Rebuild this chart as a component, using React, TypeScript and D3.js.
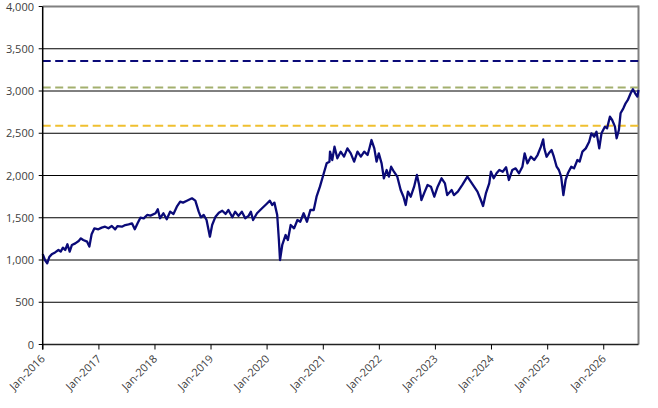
import React from "react";
import * as d3 from "d3";

// decimal year, index level
const seg2016to2018: [number, number][] = [
  [2016.0, 1070], [2016.04, 1000], [2016.08, 961], [2016.12, 1039], [2016.16, 1067],
  [2016.22, 1090], [2016.28, 1118], [2016.32, 1100], [2016.36, 1146], [2016.4, 1118],
  [2016.44, 1186], [2016.48, 1100], [2016.52, 1178], [2016.58, 1197], [2016.64, 1225],
  [2016.68, 1256], [2016.72, 1237], [2016.79, 1217], [2016.83, 1158], [2016.87, 1304],
  [2016.92, 1375], [2016.99, 1363], [2017.05, 1383], [2017.11, 1394], [2017.17, 1375],
  [2017.23, 1402], [2017.29, 1363], [2017.33, 1402], [2017.41, 1394], [2017.47, 1414],
  [2017.53, 1422], [2017.59, 1434], [2017.64, 1363], [2017.69, 1434], [2017.74, 1501],
  [2017.8, 1493], [2017.86, 1533], [2017.92, 1525], [2018.01, 1553], [2018.05, 1600],
  [2018.09, 1494], [2018.15, 1553], [2018.21, 1482], [2018.27, 1572], [2018.33, 1545],
  [2018.39, 1631], [2018.45, 1690], [2018.5, 1679],
];

const seg2018to2021: [number, number][] = [
  [2018.57, 1702], [2018.66, 1730], [2018.72, 1702], [2018.78, 1572], [2018.82, 1505],
  [2018.87, 1533], [2018.92, 1473], [2018.98, 1276], [2019.02, 1414], [2019.08, 1513],
  [2019.14, 1560], [2019.2, 1583], [2019.26, 1545], [2019.31, 1592], [2019.38, 1505],
  [2019.43, 1572], [2019.49, 1522], [2019.55, 1572], [2019.61, 1494], [2019.67, 1522],
  [2019.71, 1572], [2019.75, 1473], [2019.82, 1553], [2019.91, 1612], [2019.99, 1663],
  [2020.05, 1702], [2020.09, 1651], [2020.13, 1679], [2020.18, 1533], [2020.21, 1237],
  [2020.23, 1000], [2020.27, 1178], [2020.33, 1296], [2020.37, 1237], [2020.42, 1414],
  [2020.48, 1375], [2020.54, 1473], [2020.59, 1453], [2020.65, 1553], [2020.71, 1453],
  [2020.77, 1592], [2020.83, 1592], [2020.88, 1749], [2020.94, 1868], [2021.0, 2006],
  [2021.06, 2144],
];

const seg2021to2024: [number, number][] = [
  [2021.11, 2164], [2021.12, 2282], [2021.16, 2183], [2021.2, 2341], [2021.25, 2203],
  [2021.31, 2282], [2021.37, 2223], [2021.43, 2321], [2021.49, 2262], [2021.55, 2164],
  [2021.61, 2282], [2021.67, 2223], [2021.73, 2282], [2021.79, 2242], [2021.83, 2341],
  [2021.86, 2420], [2021.91, 2321], [2021.95, 2164], [2021.99, 2262], [2022.04, 2144],
  [2022.08, 1967], [2022.13, 2065], [2022.17, 1986], [2022.21, 2104], [2022.26, 2045],
  [2022.32, 1986], [2022.38, 1828], [2022.43, 1749], [2022.47, 1651], [2022.51, 1809],
  [2022.56, 1749], [2022.62, 1868], [2022.67, 2006], [2022.71, 1888], [2022.75, 1710],
  [2022.81, 1809], [2022.86, 1888], [2022.92, 1868], [2022.98, 1749], [2023.04, 1868],
  [2023.11, 1967], [2023.17, 1907], [2023.21, 1768], [2023.29, 1828], [2023.33, 1768],
  [2023.4, 1809], [2023.48, 1888], [2023.57, 1986], [2023.63, 1927], [2023.69, 1868],
  [2023.75, 1809], [2023.81, 1710], [2023.85, 1639], [2023.9, 1788], [2023.96, 1907],
  [2023.99, 2045],
];

const seg2024to2026: [number, number][] = [
  [2024.04, 1967], [2024.09, 2026], [2024.14, 2065], [2024.2, 2045], [2024.26, 2097],
  [2024.31, 1947], [2024.37, 2065], [2024.43, 2085], [2024.49, 2026], [2024.55, 2104],
  [2024.59, 2262], [2024.64, 2144], [2024.7, 2223], [2024.76, 2183], [2024.82, 2242],
  [2024.88, 2341], [2024.92, 2428], [2024.94, 2321], [2024.98, 2222], [2025.02, 2262],
  [2025.07, 2301], [2025.11, 2222], [2025.16, 2104], [2025.2, 2065], [2025.24, 1986],
  [2025.28, 1769], [2025.32, 1947], [2025.36, 2026], [2025.42, 2104], [2025.47, 2085],
  [2025.53, 2183], [2025.57, 2164], [2025.62, 2282], [2025.68, 2321], [2025.74, 2400],
  [2025.78, 2499], [2025.83, 2459], [2025.87, 2518], [2025.92, 2321], [2025.96, 2499],
  [2026.02, 2578], [2026.06, 2558], [2026.11, 2696], [2026.15, 2657], [2026.2, 2578],
  [2026.23, 2440], [2026.27, 2538], [2026.3, 2736], [2026.35, 2795], [2026.39, 2854],
  [2026.43, 2894], [2026.48, 2973], [2026.52, 3020], [2026.56, 2973], [2026.6, 2934],
  [2026.62, 3012],
];

const yTicks = [0, 500, 1000, 1500, 2000, 2500, 3000, 3500, 4000];
const xTickYears = [2016, 2017, 2018, 2019, 2020, 2021, 2022, 2023, 2024, 2025, 2026];
const refLevels = [
  { value: 3355, color: "#0a0a78" },
  { value: 3040, color: "#a3b06e" },
  { value: 2588, color: "#f0c030" },
];

const toDate = (t: number) => {
  const y = Math.floor(t);
  const start = new Date(y, 0, 1).getTime();
  const end = new Date(y + 1, 0, 1).getTime();
  return new Date(start + (t - y) * (end - start));
};

export default function App() {
  const W = 658, H = 408;
  const left = 42.7, right = 638.5, top = 6.5, bottom = 344.5;
  const series = [...seg2016to2018, ...seg2018to2021, ...seg2021to2024, ...seg2024to2026];
  const x = d3.scaleTime().domain([toDate(2016), toDate(2026.62)]).range([left, right]);
  const y = d3.scaleLinear().domain([0, 4000]).range([bottom, top]);
  const line = d3.line<[number, number]>().x((d) => x(toDate(d[0]))).y((d) => y(d[1]));
  const fmtY = d3.format(",");
  const fmtX = d3.timeFormat("%b-%Y");
  const font = "'Open Sans', 'Noto Sans', sans-serif";
  return (
    <svg width={W} height={H} style={{ position: "absolute", left: 0, top: 0, background: "#fff" }}>
      {yTicks.filter((t) => t > 0 && t < 4000).map((t) => (
        <line key={t} x1={left} x2={right} y1={y(t)} y2={y(t)} stroke="#000" strokeWidth={1} />
      ))}
      <line x1={left} x2={right} y1={y(4000)} y2={y(4000)} stroke="#808080" strokeWidth={2} />
      <line x1={right} x2={right} y1={top - 1} y2={bottom} stroke="#808080" strokeWidth={2} />
      {refLevels.map((r) => (
        <line key={r.value} x1={left} x2={right} y1={y(r.value)} y2={y(r.value)}
          stroke={r.color} strokeWidth={2} strokeDasharray="8,4.5" />
      ))}
      <path d={line(series) || ""} fill="none" stroke="#0a0a78" strokeWidth={2.3} strokeLinejoin="round" />
      <line x1={left} x2={right} y1={bottom} y2={bottom} stroke="#222" strokeWidth={1.5} />
      <line x1={left} x2={left} y1={top} y2={bottom + 5} stroke="#000" strokeWidth={1.5} />
      {yTicks.map((t) => (
        <g key={t}>
          <line x1={left - 4} x2={left} y1={y(t)} y2={y(t)} stroke="#000" strokeWidth={1} />
          <text x={34} y={y(t)} dy="0.38em" textAnchor="end" fontFamily={font} fontSize={11} fill="#404040">
            {fmtY(t)}
          </text>
        </g>
      ))}
      {xTickYears.map((yr) => {
        const d = toDate(yr);
        const px = x(d);
        return (
          <g key={yr}>
            <line x1={px} x2={px} y1={bottom} y2={bottom + 5} stroke="#000" strokeWidth={1} />
            <text transform={`translate(${px + 3},${bottom + 15}) rotate(-45)`} textAnchor="end"
              fontFamily={font} fontSize={11} fill="#404040">
              {fmtX(d)}
            </text>
          </g>
        );
      })}
    </svg>
  );
}
